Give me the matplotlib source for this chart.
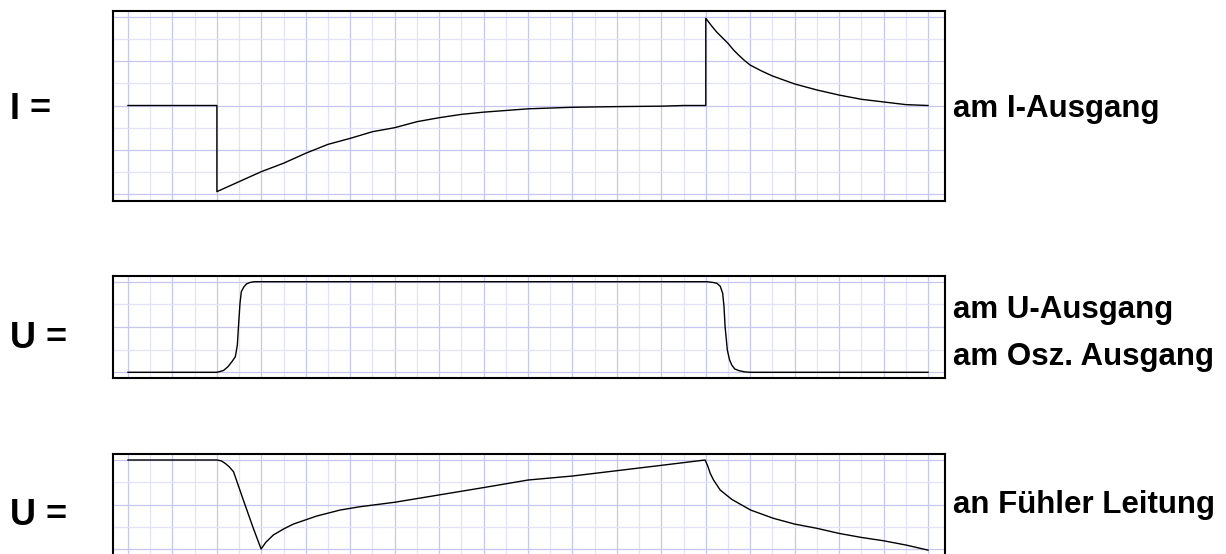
import matplotlib
matplotlib.use("Agg")
import matplotlib.pyplot as plt

# I am I-Ausgang
i_x = [0, 4, 4, 5, 6, 7, 8, 9, 10, 11, 12, 13, 14, 15, 16, 18, 20, 22, 24, 25, 26,
       26, 26.25, 26.5, 26.75, 27, 27.25, 27.5, 27.75, 28, 28.5, 29, 30, 31, 32, 33,
       34, 35, 36]
i_y = [4, 4, 0.12, 0.57, 1.02, 1.4, 1.85, 2.25, 2.52, 2.82, 3.0, 3.27, 3.45, 3.6, 3.7,
       3.85, 3.92, 3.95, 3.97, 4.0, 4.0, 7.93, 7.6, 7.3, 7.05, 6.8, 6.5, 6.25, 6.02,
       5.82, 5.56, 5.33, 4.97, 4.7, 4.47, 4.28, 4.16, 4.04, 4.0]

# U am U-Ausgang / Osz. Ausgang
u_x = [0, 4.0, 4.3, 4.5, 4.7, 4.83, 4.92, 4.97, 5.04, 5.1, 5.2, 5.33, 5.5, 5.7,
       26.04, 26.3, 26.5, 26.65, 26.76, 26.82, 26.87, 26.93, 26.97, 27.07, 27.17,
       27.3, 27.5, 27.75, 28, 36]
u_y = [0, 0, 0.08, 0.25, 0.5, 0.69, 1.2, 2.0, 3.05, 3.56, 3.75, 3.9, 3.97, 4.0,
       4.0, 3.97, 3.93, 3.8, 3.49, 2.9, 2.0, 1.4, 0.98, 0.55, 0.32, 0.15, 0.07,
       0.02, 0, 0]

# U an Fuehler Leitung
f_x = [0, 4, 4.2, 4.37, 4.55, 4.75, 5.19, 5.64, 5.99, 6.2, 6.54, 7.0, 7.44, 8.49,
       9.54, 10.44, 12, 14, 16, 18, 20, 22, 24, 25.97, 26.1, 26.2, 26.35, 26.65,
       27.17, 28.02, 29.04, 30, 31, 32, 33, 34, 35, 36]
f_y = [4, 4, 3.96, 3.85, 3.7, 3.47, 2.2, 0.93, 0.0, 0.3, 0.63, 0.9, 1.12, 1.48,
       1.75, 1.9, 2.1, 2.43, 2.76, 3.1, 3.28, 3.52, 3.76, 4.0, 3.7, 3.4, 3.1, 2.65,
       2.23, 1.75, 1.38, 1.12, 0.93, 0.7, 0.52, 0.37, 0.18, -0.05]

left_labels = ["I =", "U =", "U ="]
right_labels = ["am I-Ausgang", "am U-Ausgang", "am Osz. Ausgang", "an Fühler Leitung"]

W, H = 1226, 554
MAJOR = "#c6c6ee"
MINOR = "#e3e3f7"


def fx(px):
    return px / W


def fy(px):
    return (H - px) / H


def panel(fig, top, bottom, y0px, scale, ytop, x, y):
    # axes box in pixel coords, x: 0 -> 128 px, 36 -> 928 px
    ax = fig.add_axes([fx(113), fy(bottom), fx(945 - 113), (bottom - top) / H])
    sx = 800 / 36.0
    ax.set_xlim(-(128 - 113) / sx, 36 + (945 - 928) / sx)
    ax.set_ylim(-(bottom - y0px) / scale, ytop + (y0px - scale * ytop - top) / scale)
    for k in range(0, 37):
        ax.axvline(k, color=MAJOR if k % 2 == 0 else MINOR, lw=0.9, zorder=1)
    for k in range(0, ytop + 1):
        ax.axhline(k, color=MAJOR if k % 2 == 0 else MINOR, lw=0.9, zorder=1)
    ax.plot(x, y, color="black", lw=1.0, zorder=3)
    ax.set_xticks([])
    ax.set_yticks([])
    for s in ax.spines.values():
        s.set_linewidth(1.5)
        s.set_color("black")
    return ax


fig = plt.figure(figsize=(W / 100, H / 100), dpi=100, facecolor="white")

panel(fig, 11, 201, 194.3, 22.2, 8, i_x, i_y)
panel(fig, 275.7, 378.3, 372.3, 22.65, 4, u_x, u_y)
panel(fig, 454, 562, 549, 22.25, 4, f_x, f_y)

fnt = dict(family=["Liberation Sans", "DejaVu Sans"], weight="bold", color="black")

# left labels
for lab, base in zip(left_labels, [119, 348, 525]):
    fig.text(fx(10), fy(base), lab, fontsize=26, va="baseline", ha="left", **fnt)

# right labels
for lab, base in zip(right_labels, [117, 318, 365, 513]):
    fig.text(fx(953), fy(base), lab, fontsize=22.5, va="baseline", ha="left", **fnt)

fig.savefig("out.png", dpi=100, facecolor="white")
